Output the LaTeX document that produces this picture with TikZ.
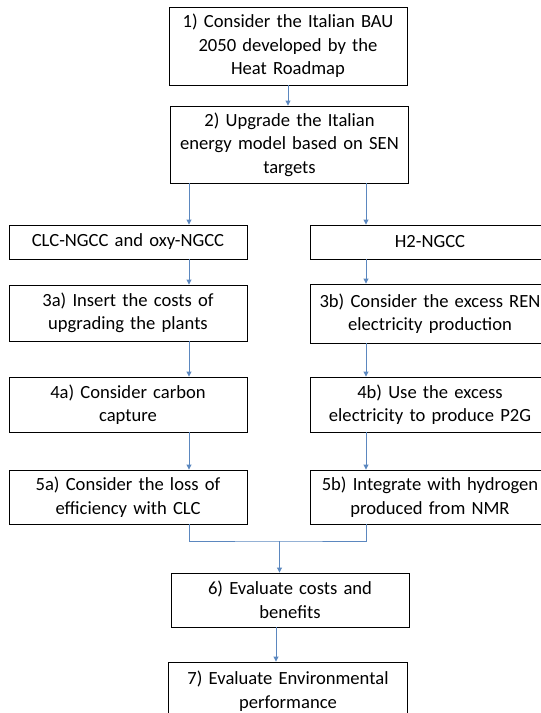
\documentclass[tikz,border=0pt]{standalone}
\usepackage{fontspec}
\setmainfont{Carlito}
\usetikzlibrary{arrows.meta}
\definecolor{arrblue}{HTML}{5B87BF}
\tikzset{
  box/.style={draw=black, line width=0.9pt, align=center, inner sep=0pt,
    font=\fontsize{18.6}{23.5}\selectfont, text width=238pt},
  arr/.style={draw=arrblue, line width=0.9pt, -{Triangle[length=5pt,width=5pt]}},
  ln/.style={draw=arrblue, line width=0.9pt}
}
\begin{document}
\begin{tikzpicture}[x=1pt,y=-1pt]
\useasboundingbox (0,0) rectangle (541,713);
\clip (0,0) rectangle (541,713);
\node[box, minimum width=238pt, minimum height=78pt] (b1) at (288,46) {1) Consider the Italian BAU\\2050 developed by the\\Heat Roadmap};
\node[box, minimum width=237pt, minimum height=77pt] (b2) at (289.5,144.5) {2) Upgrade the Italian\\energy model based on SEN\\targets};
\node[box, minimum width=238pt, minimum height=34pt] (ca) at (128,242) {CLC-NGCC and oxy-NGCC};
\node[box, minimum width=239pt, minimum height=34pt] (cb) at (430,242) {H2-NGCC};
\node[box, minimum width=238pt, minimum height=56pt] (b3a) at (128,313) {3a) Insert the costs of\\upgrading the plants};
\node[box, minimum width=239pt, minimum height=59pt] (b3b) at (430,313.5) {3b) Consider the excess REN\\electricity production};
\node[box, minimum width=238pt, minimum height=55pt] (b4a) at (128,404.5) {4a) Consider carbon\\capture};
\node[box, minimum width=239pt, minimum height=55pt] (b4b) at (430,404.5) {4b) Use the excess\\electricity to produce P2G};
\node[box, minimum width=238pt, minimum height=54pt] (b5a) at (128,497) {5a) Consider the loss of\\efficiency with CLC};
\node[box, minimum width=239pt, minimum height=54pt] (b5b) at (430,497) {5b) Integrate with hydrogen\\produced from NMR};
\node[box, minimum width=238pt, minimum height=54pt] (b6) at (290,600) {6) Evaluate costs and\\benefits};
\node[box, minimum width=239pt, minimum height=58pt] (b7) at (288,691) {7) Evaluate Environmental\\performance};
\coordinate (j) at (279.5,541);
\draw[arr] (b1.south -| 288,0) -- (b2.north -| 288,0);
\draw[arr] (b2.south -| 189,0) -- (ca.north -| 189,0);
\draw[arr] (b2.south -| 366,0) -- (cb.north -| 366,0);
\draw[arr] (ca.south -| 189,0) -- (b3a.north -| 189,0);
\draw[arr] (cb.south -| 366,0) -- (b3b.north -| 366,0);
\draw[arr] (b3a.south -| 189,0) -- (b4a.north -| 189,0);
\draw[arr] (b3b.south -| 366,0) -- (b4b.north -| 366,0);
\draw[arr] (b4a.south -| 189,0) -- (b5a.north -| 189,0);
\draw[arr] (b4b.south -| 366,0) -- (b5b.north -| 366,0);
\draw[ln] (b5a.south -| 189,0) |- (j) -| (b5b.south -| 366,0);
\draw[arr] (j) -- (b6.north -| j);
\draw[arr] (b6.south -| 276,0) -- (b7.north -| 276,0);
\end{tikzpicture}
\end{document}
